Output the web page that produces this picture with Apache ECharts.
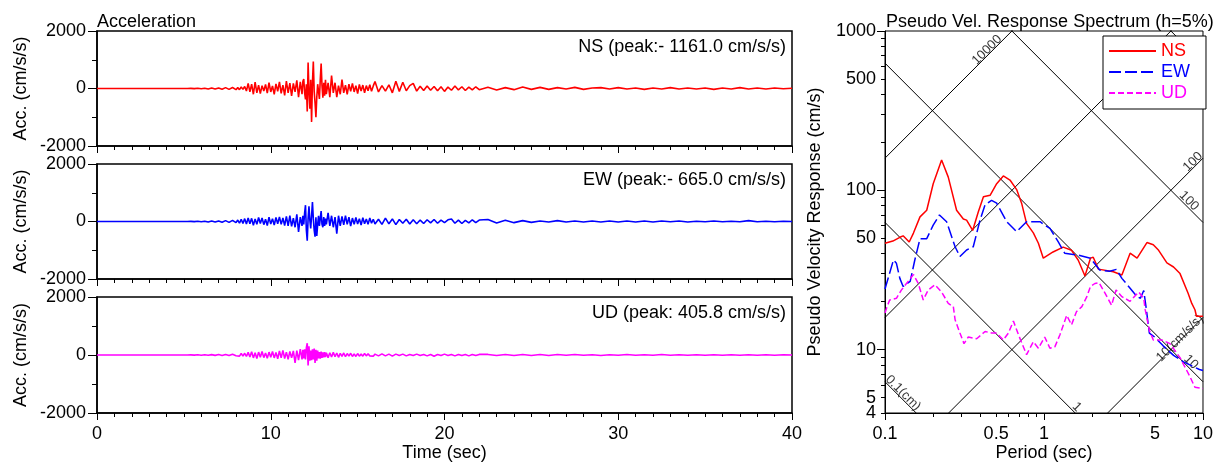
<!DOCTYPE html>
<html><head><meta charset="utf-8">
<script src="https://cdn.jsdelivr.net/npm/echarts@6/dist/echarts.min.js"></script>
<style>html,body{margin:0;padding:0;background:#fff}#c{width:1216px;height:463px}</style>
</head><body><div id="c"></div>
<script>
// ---------------- DATA ----------------
// Acceleration records (time in sec, acceleration in cm/s/s)
const timeSec = [0,1,2,3,4,5,
5.2,5.4,5.6,5.8,6,6.2,6.4,6.6,6.8,7,7.2,7.4,7.6,7.8,8,
8.1,8.2,8.3,8.4,8.5,8.6,8.7,8.8,8.9,9,9.1,9.2,9.3,9.4,9.5,9.6,9.7,9.8,9.9,10,10.1,10.2,10.3,10.4,10.5,10.6,10.7,10.8,10.9,11,11.1,11.2,11.3,11.4,11.5,11.6,11.7,
11.8,11.85,11.9,11.95,12,12.05,12.1,12.15,12.2,12.25,12.3,12.35,12.4,12.45,12.5,12.55,12.6,12.65,12.7,12.75,12.8,12.85,12.9,12.95,13,13.05,13.1,13.15,13.2,
13.3,13.4,13.5,13.6,13.7,13.8,13.9,14,14.1,14.2,14.3,14.4,14.5,14.6,14.7,14.8,14.9,15,15.1,15.2,15.3,15.4,15.5,15.6,15.7,15.8,15.9,16,
16.2,16.4,16.6,16.8,17,17.2,17.4,17.6,17.8,18,18.2,18.4,18.6,18.8,19,19.2,19.4,19.6,19.8,20,20.2,20.4,20.6,20.8,21,21.2,21.4,21.6,21.8,22,
22.5,23,23.5,24,24.5,25,25.5,26,26.5,27,27.5,28,28.5,29,29.5,30,30.5,31,31.5,32,32.5,33,33.5,34,34.5,35,35.5,36,36.5,37,37.5,38,38.5,39,39.5,40];

const accNS = [0,0,0,0,0,0,
0,5,-5,10,-10,10,-15,15,-20,20,-25,30,-30,35,-40,
30,-40,50,-30,70,-90,180,-120,150,-200,220,-150,120,-180,100,-90,140,-160,200,-120,90,-200,160,-100,230,-170,120,-240,260,-150,190,-260,180,-120,280,-300,230,
-200,250,330,-150,-380,150,-800,905,-100,-700,300,-1161,200,940,-100,-500,-1000,-300,150,-100,-360,300,870,100,-320,200,-250,300,-200,
200,-300,450,-150,200,-300,100,-200,310,-150,120,-200,150,-100,180,-120,100,-180,140,-90,120,-150,100,-80,130,-100,90,240,
-120,100,-90,130,-150,250,-100,220,-80,100,180,-90,80,-70,90,-60,70,-80,60,-100,50,-60,90,-50,60,-70,50,-50,60,-40,
40,-50,30,-40,50,-30,40,-30,30,-20,40,-30,20,30,-20,30,-20,20,-30,20,-20,30,-20,20,-20,20,-30,20,-20,30,-20,20,-20,20,-10,10];

const accEW = [0,0,0,0,0,0,
0,5,-5,10,-10,10,-15,15,-20,20,-25,30,-30,40,-40,
50,-60,80,-70,100,-90,120,-80,110,-130,90,-100,140,-70,120,-110,80,-140,150,-90,100,-120,140,-80,160,-100,120,-140,180,-150,200,-170,120,-200,250,-360,150,
-150,200,-100,300,567,-300,-665,100,530,50,-240,200,680,100,-300,-530,150,-500,-100,200,-150,100,360,-100,-200,150,-150,100,-100,
300,-150,200,-200,150,-420,200,-150,180,-120,200,-100,150,-160,120,-100,140,-90,100,-120,130,-80,90,-100,120,-60,80,-90,
80,-100,120,-80,90,-110,70,-60,80,-90,60,-80,50,-70,60,-50,70,-60,50,-40,60,90,-60,50,-70,40,-50,60,-40,50,
70,-50,40,-40,30,-30,20,-20,30,-20,20,-20,20,-15,20,-20,15,-15,20,-15,15,-10,15,-15,10,-10,15,-10,10,-10,30,-10,10,-10,10,0];

const accUD = [0,0,0,0,0,0,
0,5,-5,8,-8,10,-10,12,-12,15,-15,20,-20,25,-25,
30,-40,50,-40,60,-50,90,-70,110,-100,80,-120,100,-80,120,-90,70,-110,100,-80,120,-100,90,-130,140,-100,160,-120,100,-150,120,-100,140,-270,150,-180,200,
-150,180,-120,200,-150,250,405.8,-360,300,-200,150,-180,200,-150,220,-270,180,-200,150,-120,100,-130,120,-100,90,-80,100,-70,80,
-90,80,-70,90,-60,70,-80,60,-50,70,-60,50,-40,60,-50,40,-50,50,-40,30,-40,50,-30,40,-30,30,-40,30,
-30,40,-30,30,-40,30,-20,30,-30,20,-20,30,-20,20,-30,20,-40,20,-20,30,-20,20,-30,20,-20,20,-30,20,-20,20,
20,-20,15,-15,20,-15,15,-20,15,-10,15,-10,10,-15,10,-10,15,-10,10,-10,15,-10,10,-10,10,-10,10,-10,10,-10,10,-10,10,-10,10,0];

const accLabels = ['NS (peak:- 1161.0 cm/s/s)', 'EW (peak:- 665.0 cm/s/s)', 'UD (peak: 405.8 cm/s/s)'];
const compNames = ['NS', 'EW', 'UD'];
const compColors = ['#ff0000', '#0000ff', '#ff00ff'];

// Pseudo velocity response spectra (period in sec, Sv in cm/s)
const nsPeriod = [0.1,0.112,0.124,0.130,0.142,0.151,0.166,0.183,0.201,0.227,0.250,0.282,0.311,0.326,0.356,0.386,0.416,0.458,0.504,0.555,0.611,0.673,0.723,0.777,0.857,0.922,0.99,1.14,1.32,1.49,1.64,1.81,1.96,2.04,2.2,2.73,3.09,3.48,3.85,4.44,4.87,5.26,5.93,6.53,7.17,8.06,8.5,8.9,9.1,10];
const nsPSV = [46.5,48,50.7,51.8,47.4,53.9,68.1,75,110,155,121,75,66,65,56,73,91,93,110,123,116,101,83,62,54,46.5,37.5,41,44,42,36.5,29,37.5,38,32,30.8,29.4,40.3,37.5,47,45.5,42,35,33,30,22.6,19.5,17.8,16.2,16.2];
const ewPeriod = [0.1,0.113,0.118,0.124,0.130,0.144,0.154,0.166,0.183,0.201,0.220,0.244,0.276,0.296,0.326,0.359,0.396,0.426,0.468,0.504,0.583,0.673,0.777,0.944,1.09,1.23,1.35,1.68,1.96,2.24,2.59,2.85,3.09,3.48,3.85,4.04,4.24,4.4,4.5,4.6,4.96,5.6,6.53,7.5,9.5,10];
const ewPSV = [24,36.5,34.8,28,24.9,26.8,36.5,49.7,49.7,60.5,70,63.5,44.2,38.4,42.2,44.2,65,81,86.4,83,63.5,55,63.5,63.5,57.6,47.4,40.3,39,37.5,31.6,31,31.9,28,24.3,21.5,21,23.5,18,15,12.7,12.0,10.6,9.2,8.4,7.5,7.4];
const udPeriod = [0.1,0.103,0.107,0.118,0.127,0.151,0.162,0.174,0.187,0.206,0.227,0.250,0.269,0.276,0.296,0.314,0.334,0.377,0.426,0.468,0.504,0.555,0.597,0.642,0.691,0.777,0.857,0.922,1.01,1.09,1.17,1.26,1.39,1.49,1.60,1.73,1.86,1.96,2.09,2.22,2.42,2.66,2.84,3.09,3.48,3.94,4.24,4.33,4.6,4.87,5.5,6.2,7.17,8.2,8.9,10];
const udPSV = [17,18.6,20.5,21,23.7,29.6,26,20.5,23.7,25.5,23,19.5,18.6,15.4,12.7,10.9,12.0,11.7,13.0,12.7,12.7,11.5,12.7,15.1,12.4,9.3,11.2,10.2,12.0,10.2,10.4,12.4,16.4,14.3,17.3,18.6,21.5,24.9,26,26.3,22.6,19,23.7,21.5,20.1,23,21,17.8,13.2,11.5,11.5,10.9,8.9,6.9,5.8,5.7];

// Axis ticks
const periodLabels = [0.1, 0.5, 1, 5, 10];
const periodMajorTicks = [0.1, 1, 10];
const periodMinorTicks = [0.2,0.3,0.4,0.5,0.6,0.7,0.8,0.9,2,3,4,5,6,7,8,9];
const psvLabels = [4, 10, 50, 100, 500, 1000];
const psvLabelsExtra = [5];
const psvMajorTicks = [10, 100, 1000];
const psvMinorTicks = [4,5,6,7,8,9,20,30,40,50,60,70,80,90,200,300,400,500,600,700,800,900];
const periodRange = [0.1, 10];
const psvRange = [4, 1000];

// Tripartite grid levels
const dispLevels = [0.1, 1, 10, 100, 1000];     // displacement (cm)
const accLevels = [10, 100, 1000, 10000];       // acceleration (cm/s/s)
// Tripartite labels: text, period, Sv, orientation
const tripLabels = [
  {text: '10000', T: 0.438, V: 760, rot: 45},
  {text: '100', T: 8.65, V: 151, rot: 45},
  {text: '10(cm/s/s)', T: 7.17, V: 11.8, rot: 45},
  {text: '0.1(cm)', T: 0.13, V: 5.34, rot: -45},
  {text: '1', T: 1.61, V: 4.36, rot: -45},
  {text: '10', T: 8.4, V: 8.36, rot: -45},
  {text: '100', T: 8.17, V: 85.7, rot: -45}
];

// ---------------- CHART ----------------
const FONT = "'Liberation Sans', Arial, sans-serif";
const L = Math.log10;
const chart = echarts.init(document.getElementById('c'), null, {renderer: 'canvas'});

const accGrids = [
  {left: 97, top: 31, width: 695, height: 115},
  {left: 97, top: 164, width: 695, height: 115},
  {left: 97, top: 297, width: 695, height: 116}
];
const specGrid = {left: 885, top: 31, width: 318, height: 382};

const grids = accGrids.map(g => Object.assign({show: true, borderColor: '#000', borderWidth: 1.5, backgroundColor: 'transparent'}, g));
grids.push(Object.assign({show: true, borderColor: '#000', borderWidth: 1, backgroundColor: 'transparent'}, specGrid));

const lab = {fontSize: 18, color: '#000', fontFamily: FONT};
const plain = v => String(v);
const xAxes = [], yAxes = [];
accGrids.forEach((g, i) => {
  xAxes.push({gridIndex: i, type: 'value', min: 0, max: 40, interval: 10, position: 'bottom',
    axisLine: {onZero: false, lineStyle: {color: '#000', width: 1.5}},
    axisTick: {length: 7, lineStyle: {color: '#000', width: 1}},
    minorTick: {show: true, splitNumber: 10, length: 4, lineStyle: {color: '#000', width: 1}},
    splitLine: {show: false}, minorSplitLine: {show: false},
    axisLabel: Object.assign({show: i === 2, margin: 12, formatter: plain}, lab)});
  yAxes.push({gridIndex: i, type: 'value', min: -2000, max: 2000, interval: 2000, position: 'left',
    axisLine: {onZero: false, lineStyle: {color: '#000', width: 1.5}},
    axisTick: {length: 9, lineStyle: {color: '#000', width: 1}},
    minorTick: {show: true, splitNumber: 2, length: 5, lineStyle: {color: '#000', width: 1}},
    splitLine: {show: false}, minorSplitLine: {show: false},
    axisLabel: Object.assign({margin: 11, formatter: plain, showMinLabel: true, showMaxLabel: true}, lab)});
});
const fmtLog = v => String(+Math.pow(10, v).toPrecision(3));
// spectrum axes (log10 space): major+labels, then minor ticks
xAxes.push({gridIndex: 3, type: 'value', min: L(periodRange[0]), max: L(periodRange[1]), position: 'bottom', offset: 0,
  axisLine: {onZero: false, lineStyle: {color: '#000', width: 1}},
  axisTick: {length: 7, customValues: periodMajorTicks.map(L), lineStyle: {color: '#000', width: 1}},
  splitLine: {show: false},
  axisLabel: Object.assign({customValues: periodLabels.map(L), formatter: fmtLog, margin: 12, showMinLabel: true, showMaxLabel: true}, lab)});
xAxes.push({gridIndex: 3, type: 'value', min: L(periodRange[0]), max: L(periodRange[1]), position: 'bottom', offset: 0,
  axisLine: {show: false, onZero: false},
  axisTick: {length: 4, customValues: periodMinorTicks.map(L), lineStyle: {color: '#000', width: 1}},
  splitLine: {show: false}, axisLabel: {show: false}});
yAxes.push({gridIndex: 3, type: 'value', min: L(psvRange[0]), max: L(psvRange[1]), position: 'left', offset: 0,
  axisLine: {onZero: false, lineStyle: {color: '#000', width: 1}},
  axisTick: {length: 8, customValues: psvMajorTicks.map(L), lineStyle: {color: '#000', width: 1}},
  splitLine: {show: false},
  axisLabel: Object.assign({customValues: psvLabels.map(L), formatter: fmtLog, margin: 9, showMinLabel: true, showMaxLabel: true}, lab)});
yAxes.push({gridIndex: 3, type: 'value', min: L(psvRange[0]), max: L(psvRange[1]), position: 'left', offset: 0,
  axisLine: {show: false, onZero: false},
  axisTick: {length: 4, customValues: psvMinorTicks.map(L), lineStyle: {color: '#000', width: 1}},
  splitLine: {show: false},
  axisLabel: Object.assign({customValues: psvLabelsExtra.map(L), formatter: fmtLog, margin: 9}, lab)});

const series = [];
[accNS, accEW, accUD].forEach((acc, i) => {
  series.push({type: 'line', name: compNames[i] + ' acc', xAxisIndex: i, yAxisIndex: i,
    data: timeSec.map((t, k) => [t, acc[k]]), symbol: 'none', showSymbol: false, silent: true,
    lineStyle: {color: compColors[i], width: 1.6}, itemStyle: {color: compColors[i]}, z: 3});
});
// tripartite grid
const TWO_PI = 2 * Math.PI;
dispLevels.forEach(d => {
  series.push({type: 'line', xAxisIndex: 3, yAxisIndex: 3, silent: true, symbol: 'none', clip: true, z: 1,
    data: periodRange.map(T => [L(T), L(TWO_PI * d / T)]), lineStyle: {color: '#000', width: 1}});
});
accLevels.forEach(a => {
  series.push({type: 'line', xAxisIndex: 3, yAxisIndex: 3, silent: true, symbol: 'none', clip: true, z: 1,
    data: periodRange.map(T => [L(T), L(a * T / TWO_PI)]), lineStyle: {color: '#000', width: 1}});
});
series.push({type: 'scatter', xAxisIndex: 3, yAxisIndex: 3, silent: true, symbolSize: 1, z: 2, clip: false,
  itemStyle: {color: 'rgba(0,0,0,0)'},
  label: {show: true, position: 'inside', formatter: p => p.name, fontSize: 13, color: '#000', fontFamily: FONT},
  data: tripLabels.map(o => ({name: o.text, value: [L(o.T), L(o.V)], label: {rotate: o.rot}}))});
const specs = [[nsPeriod, nsPSV, 'solid'], [ewPeriod, ewPSV, [12, 4]], [udPeriod, udPSV, [6, 3]]];
specs.forEach((s, i) => {
  series.push({type: 'line', name: compNames[i], xAxisIndex: 3, yAxisIndex: 3, symbol: 'none', showSymbol: false, silent: true, z: 5,
    data: s[0].map((T, k) => [L(T), L(s[1][k])]),
    color: compColors[i], itemStyle: {color: compColors[i]},
    lineStyle: {color: compColors[i], width: 1.5, type: s[2]}});
});

const txt = (text, x, y, opts) => Object.assign({type: 'text', x, y, silent: true,
  style: Object.assign({text, fill: '#000', font: '18px ' + FONT, textAlign: 'left', textVerticalAlign: 'middle', align: 'left', verticalAlign: 'middle'}, opts && opts.style || {})},
  opts && opts.rotation ? {rotation: opts.rotation} : {});
const C = {textAlign: 'center', align: 'center'};
const R = {textAlign: 'right', align: 'right'};
const graphics = [
  txt('Acceleration', 97, 22),
  txt('Time (sec)', 444.5, 453, {style: C}),
  txt('Pseudo Vel. Response Spectrum (h=5%)', 886, 22),
  txt('Pseudo Velocity Response (cm/s)', 815, 222, {style: C, rotation: Math.PI / 2}),
  txt('Period (sec)', 1044, 453, {style: C})
];
accGrids.forEach((g, i) => {
  graphics.push(txt(accLabels[i], g.left + g.width - 6, g.top + 16.5, {style: R}));
  graphics.push(txt('Acc. (cm/s/s)', 21, g.top + g.height / 2, {style: C, rotation: Math.PI / 2}));
});

chart.setOption({
  animation: false,
  backgroundColor: '#fff',
  grid: grids,
  xAxis: xAxes,
  yAxis: yAxes,
  series: series,
  legend: {show: true, orient: 'vertical', left: 1103, top: 36, itemWidth: 47, itemHeight: 14, itemGap: 3,
    padding: [6, 16, 7, 5], backgroundColor: '#fff', borderColor: '#000', borderWidth: 1, borderRadius: 0,
    selectedMode: false, textStyle: {fontSize: 18, fontFamily: FONT},
    itemStyle: {opacity: 0},
    data: compNames.map((n, i) => ({name: n, textStyle: {color: compColors[i]}}))},
  graphic: graphics
});
</script></body></html>
